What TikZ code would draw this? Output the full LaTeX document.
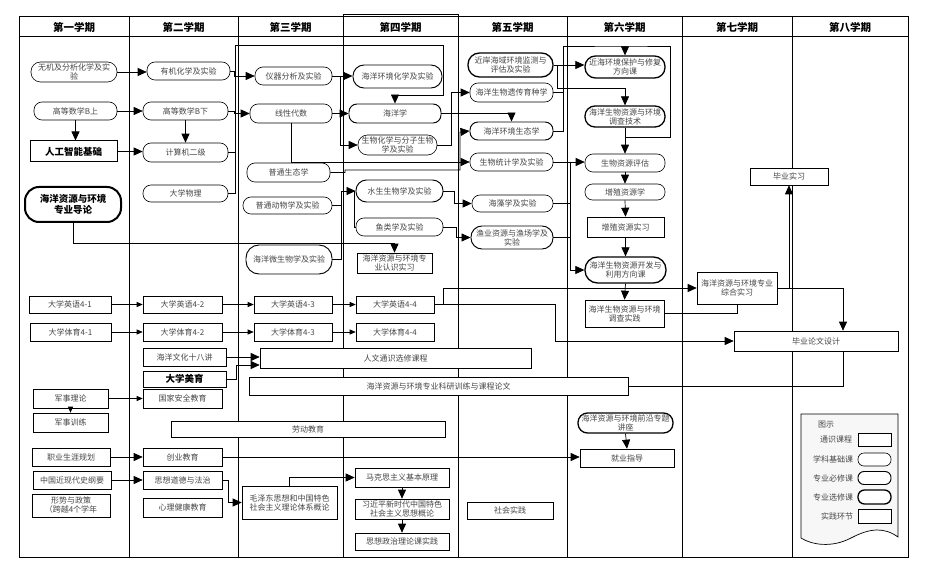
\documentclass[tikz,border=0pt]{standalone}
\usepackage{fontspec}
\setmainfont{Noto Sans CJK SC}
\usetikzlibrary{shapes.misc,arrows.meta}
\definecolor{txt}{RGB}{70,70,70}
\tikzset{
  base/.style={draw=black, fill=white, inner sep=0.5pt, align=center, text=txt, font=\fontsize{8}{9}\selectfont, line width=0.6pt},
  wh/.style 2 args={minimum width=#1, minimum height=#2},
  rr/.style={base, rectangle, rounded corners=8pt},
  rrm/.style={rr, line width=0.95pt},
  rrt/.style={rr, line width=1.3pt},
  rb/.style={base, rectangle},
  bld/.style={text=black, font=\bfseries\fontsize{9.5}{11}\selectfont},
  arr/.style={-{Triangle[length=9pt,width=8pt]}, line width=0.7pt},
  sarr/.style={-{Triangle[length=6pt,width=5pt]}, line width=0.7pt},
  ln/.style={line width=0.7pt},
  hdr/.style={font=\bfseries\fontsize{10.5}{12}\selectfont},
  leg/.style={text=txt, font=\fontsize{8}{9}\selectfont, inner sep=0pt},
}
\begin{document}
\begin{tikzpicture}[x=1pt,y=-1pt]
\useasboundingbox (0,0) rectangle (928,577);
% frame and grid
\draw[line width=1pt] (19,17) rectangle (908,557);
\draw[line width=1pt] (343,15) rectangle (458,557);
\draw[line width=1pt] (19,37) -- (908,37);
\foreach \x in {129,238,343,458,567,682,792} \draw[line width=1pt] (\x,17) -- (\x,557);
% headers
\node[hdr] (h1) at (74,27) {第一学期};
\node[hdr] (h2) at (183.5,27) {第二学期};
\node[hdr] (h3) at (290.5,27) {第三学期};
\node[hdr] (h4) at (400.5,27) {第四学期};
\node[hdr] (h5) at (512.5,27) {第五学期};
\node[hdr] (h6) at (624.5,27) {第六学期};
\node[hdr] (h7) at (737,27) {第七学期};
\node[hdr] (h8) at (850,27) {第八学期};

% column 1
\node[rr,rounded corners=9.5pt,wh={86}{20}] (n11) at (74,72) {无机及分析化学及实\\验};
\node[rr,wh={83}{18}] (n12) at (75.5,111) {高等数学B上};
\node[rb,bld,line width=1pt,wh={87}{21}] (n13) at (73.5,151.5) {人工智能基础};
\node[rr,bld,line width=2pt,rounded corners=14pt,wh={96}{35}] (n14) at (73,204.5) {海洋资源与环境\\专业导论};
\node[rb,wh={82}{17}] (n15) at (70,304.5) {大学英语4-1};
\node[rb,wh={81}{18}] (n16) at (70.5,332) {大学体育4-1};
\node[rb,wh={75}{19}] (n17) at (70.5,398.5) {军事理论};
\node[rb,wh={75}{19}] (n18) at (70.5,422.5) {军事训练};
\node[rb,wh={78}{18}] (n19) at (71,457) {职业生涯规划};
\node[rb,wh={78}{18}] (n1a) at (72,480) {中国近现代史纲要};
\node[rb,wh={78}{23}] (n1b) at (71,505.5) {形势与政策\\（跨越4个学年};

% column 2
\node[rr,wh={83}{18}] (n21) at (188.5,71) {有机化学及实验};
\node[rr,wh={85}{18}] (n22) at (185.5,111) {高等数学B下};
\node[rr,wh={85}{19}] (n23) at (185.5,152.5) {计算机二级};
\node[rr,wh={85}{17}] (n24) at (185.5,193.5) {大学物理};
\node[rb,wh={79}{17}] (n25) at (182.5,304.5) {大学英语4-2};
\node[rb,wh={79}{18}] (n26) at (182.5,332) {大学体育4-2};
\node[rb,wh={83}{18}] (n27) at (184.5,357) {海洋文化十八讲};
\node[rb,bld,wh={83}{16}] (n28) at (184.5,379) {大学美育};
\node[rb,wh={79}{19}] (n29) at (182.5,398.5) {国家安全教育};
\node[rb,wh={79}{18}] (n2a) at (182.5,457) {创业教育};
\node[rb,wh={79}{18}] (n2b) at (182.5,480) {思想道德与法治};
\node[rb,wh={79}{19}] (n2c) at (182.5,507.5) {心理健康教育};

% column 3
\node[rr,wh={77}{18}] (n31) at (293.5,76) {仪器分析及实验};
\node[rr,wh={82}{19}] (n32) at (291,113.5) {线性代数};
\node[rr,wh={83}{19}] (n33) at (288.5,172.5) {普通生态学};
\node[rr,wh={89}{17}] (n34) at (287.5,205.5) {普通动物学及实验};
\node[rrm,rounded corners=13pt,wh={86}{29}] (n35) at (289,259.5) {海洋微生物学及实验};
\node[rb,wh={78}{17}] (n36) at (293,304.5) {大学英语4-3};
\node[rb,wh={78}{18}] (n37) at (293,332) {大学体育4-3};
\node[rb,wh={95}{33}] (n38) at (289.5,502.5) {毛泽东思想和中国特色\\社会主义理论体系概论};

% column 4
\node[rrm,rounded corners=11pt,wh={89}{23}] (n41) at (397.5,76.5) {海洋环境化学及实验};
\node[rrm,wh={92}{19}] (n42) at (395,113.5) {海洋学};
\node[rr,rounded corners=9.5pt,wh={79}{20}] (n43) at (397.5,145) {生物化学与分子生物\\学及实验};
\node[rrm,rounded corners=10.5pt,wh={87}{22}] (n44) at (399.5,191) {水生生物学及实验};
\node[rr,wh={87}{18}] (n45) at (399.5,227) {鱼类学及实验};
\node[rb,wh={75}{20}] (n46) at (394.5,263) {海洋资源与环境专\\业认识实习};
\node[rb,wh={78}{17}] (n47) at (395,304.5) {大学英语4-4};
\node[rb,wh={78}{18}] (n48) at (395,332) {大学体育4-4};
\node[rb,wh={94}{19}] (n49) at (402,477.5) {马克思主义基本原理};
\node[rb,wh={94}{20}] (n4a) at (402,509) {习近平新时代中国特色\\社会主义思想概论};
\node[rb,wh={94}{17}] (n4b) at (402,541.5) {思想政治理论课实践};

% wide boxes
\node[rb,wh={271}{20}] (nw1) at (395.5,358) {人文通识选修课程};
\node[rb,wh={379}{18}] (nw2) at (438.5,386) {海洋资源与环境专业科研训练与课程论文};
\node[rb,wh={274}{16}] (nw3) at (308,429) {劳动教育};
\node[rb,wh={86}{17}] (nw4) at (510,510.5) {社会实践};

% column 5
\node[rrt,rounded corners=11.5pt,wh={85}{24}] (n51) at (510.5,65) {近岸海域环境监测与\\评估及实验};
\node[rr,wh={83}{19}] (n52) at (511.5,92.5) {海洋生物遗传育种学};
\node[rrm,wh={83}{18}] (n53) at (511.5,131) {海洋环境生态学};
\node[rr,wh={83}{18}] (n54) at (511.5,162) {生物统计学及实验};
\node[rr,wh={81}{17}] (n55) at (512.5,203.5) {海藻学及实验};
\node[rrm,rounded corners=11pt,wh={82}{23}] (n56) at (512,237.5) {渔业资源与渔场学及\\实验};

% column 6
\node[rrt,rounded corners=10.5pt,wh={80}{22}] (n61) at (625,67) {近海环境保护与修复\\方向课};
\node[rrt,rounded corners=10pt,wh={80}{21}] (n62) at (625,116.5) {海洋生物资源与环境\\调查技术};
\node[rr,wh={80}{18}] (n63) at (625,163) {生物资源评估};
\node[rr,rounded corners=7.5pt,wh={80}{16}] (n64) at (625,192) {增殖资源学};
\node[rb,wh={77}{20}] (n65) at (625.5,227) {增殖资源实习};
\node[rrt,rounded corners=12.5pt,wh={81}{26}] (n66) at (625.5,270) {海洋生物资源开发与\\利用方向课};
\node[rb,wh={79}{27}] (n67) at (624.5,313.5) {海洋生物资源与环境\\调查实践};
\node[rrt,rounded corners=9.5pt,wh={95}{20}] (n68) at (625.5,423) {海洋资源与环境前沿专题\\讲座};
\node[rb,wh={94}{18}] (n69) at (627,458) {就业指导};

% column 7-8
\node[rb,wh={80}{32}] (n71) at (737,288) {海洋资源与环境专业\\综合实习};
\node[rb,wh={78}{17}] (n72) at (789,176.5) {毕业实习};
\node[rb,wh={164}{20}] (n73) at (816,341) {毕业论文设计};

% ---------- connectors ----------
\draw[arr] (n11.east) -- (n11.east -| n21.west);
\draw[arr] (n12.east) -- (n12.east -| n22.west);
\draw[arr] (n12.south) -- (n12.south |- n13.north);
\draw[arr] (n13.east) -- (n13.east -| n23.west);
\draw[arr] (n22.south) -- (n23.north);
\draw[arr] (n21.east) -- (234,71) |- (n31.west);
\draw[arr] (n22.east) -- (234,111) |- (n32.west);
\coordinate (p1) at (235,45);
\draw[arr] (n24.east) -| (p1) -| (443,95) -| (n42.north);
\draw[ln] (n23.east) -- (235,152.5);
\coordinate (j1) at (340,76);
\draw[arr] (n31.east) -- (n31.east -| n41.west);
\draw[arr] (j1) |- (n43.west);
\draw[arr] (n32.east) -- (n32.east -| n42.west);
\draw[arr] (n32.south) |- (n54.west);
\draw[arr] (n33.east) -- (345,172.5) -- (345,170) -| (460,132) -- (n53.west);
\draw[arr] (n34.east) -| (341,191) -- (n44.west);
\draw[ln] (n35.east) -| (341,205.5);
\draw[ln] ([xshift=-1pt]n44.west) -- ([xshift=-1pt]n44.west |- n45.west) -- (n45.west);
\draw[arr] (n42.east) -| (n53.north);
\draw[arr] (n43.east) -- (451,145) |- (n52.west);
\draw[arr] (n44.east) -- (454,191) |- (n55.west);
\draw[arr] (n45.east) -- (456,227) |- (n56.west);
\draw[arr] (n14.south) -- (73,243) -| (n46.north);
% English / PE
\draw[sarr] (n15.east) -- (n15.east -| n25.west);
\draw[sarr] (n25.east) -- (n25.east -| n36.west);
\draw[sarr] (n36.east) -- (n36.east -| n47.west);
\draw[sarr] (n16.east) -- (n16.east -| n26.west);
\draw[sarr] (n26.east) -- (n26.east -| n37.west);
\draw[sarr] (n37.east) -- (n37.east -| n48.west);
\coordinate (j2) at (443,304.5);
\draw[arr] (n47.east) -- (j2) |- (n71.west);
\draw[arr] (j2) -- (555,304.5) |- (n73.west);
\draw[ln] (n67.east) -| (n71.south);
% column 6 chain
\draw[arr] (n62.south) -- (n63.north);
\draw[arr] (n63.south) -- (n64.north);
\draw[arr] (n64.south) -- (n65.north);
\draw[arr] (n65.south) -- (n66.north);
\draw[arr] (n66.south) -- (n67.north);
\draw[arr] (n68.south) -- (n69.north);
% column 5 -> 6
\draw[arr] (n51.east) -- (n51.east -| n61.west);
\draw[arr] (557,65) |- (625,88) -- (n62.north);
\coordinate (p2) at (625,46);
\draw[ln] (n53.east) -- (563,131) |- (p2) -- (670,46) -- (670,137) -- (625,137);
\draw[ln] (n52.east) -- (563,92.5);
\draw[arr] (p2) -- (n61.north);
\draw[arr] (n54.east) -- (n54.east -| n63.west);
\draw[arr] (570,162) |- (n66.west);
\draw[ln] (n55.east) -- (570,203.5);
\draw[ln] (n56.east) -- (570,237.5);
% column 7-8
\coordinate (j3) at (789,288);
\draw[arr] (n71.east) -| (n72.south);
\draw[arr] (j3) -| ([xshift=27pt]n73.north);
\draw[ln] (nw2.east) -| ([xshift=27pt]n73.south);
% general
\draw[arr] (n27.east) -- (n27.east -| nw1.west);
\draw[arr] (n28.east) -| (236,365) -- (nw1.west |- 0,365);
\draw[sarr] (n17.east) -- (n17.east -| n29.west);
\draw[sarr] (n17.south) -- (n18.north);
\draw[arr] (n19.east) -- (n19.east -| n2a.west);
\draw[arr] (n1a.east) -- (n1a.east -| n2b.west);
\draw[arr] (n2b.east) -- (228,480) |- (n38.west);
\draw[arr] (n2a.east) -- (n2a.east -| n69.west);
\draw[arr] (n38.north) |- (n49.west);
\draw[arr] (n49.south) -- (n4a.north);
\draw[arr] (n4a.south) -- (n4b.north);

% legend
\draw[line width=0.7pt, fill=gray!6] (801,414) -- (898,414) -- (898,537)
  .. controls (884,527) and (870,528) .. (851,538)
  .. controls (832,548) and (812,545) .. (801,538) -- cycle;
\node[leg] (lg0) at (826,425) {图示};
\node[leg] (lg1) at (836,440) {通识课程};
\node[leg] (lg2) at (833,459.5) {学科基础课};
\node[leg] (lg3) at (833,478) {专业必修课};
\node[leg] (lg4) at (833,497) {专业选修课};
\node[leg] (lg5) at (837,516) {实践环节};
\node[rb,wh={33}{13}] (lb1) at (874.5,439.5) {};
\node[rr,rounded corners=6pt,wh={33}{13}] (lb2) at (874.5,459.5) {};
\node[rrm,rounded corners=6pt,wh={33}{13}] (lb3) at (874.5,478) {};
\node[rrt,rounded corners=6.5pt,wh={33}{14}] (lb4) at (874.5,497) {};
\node[rb,wh={33}{14}] (lb5) at (874.5,516) {};
\end{tikzpicture}
\end{document}
